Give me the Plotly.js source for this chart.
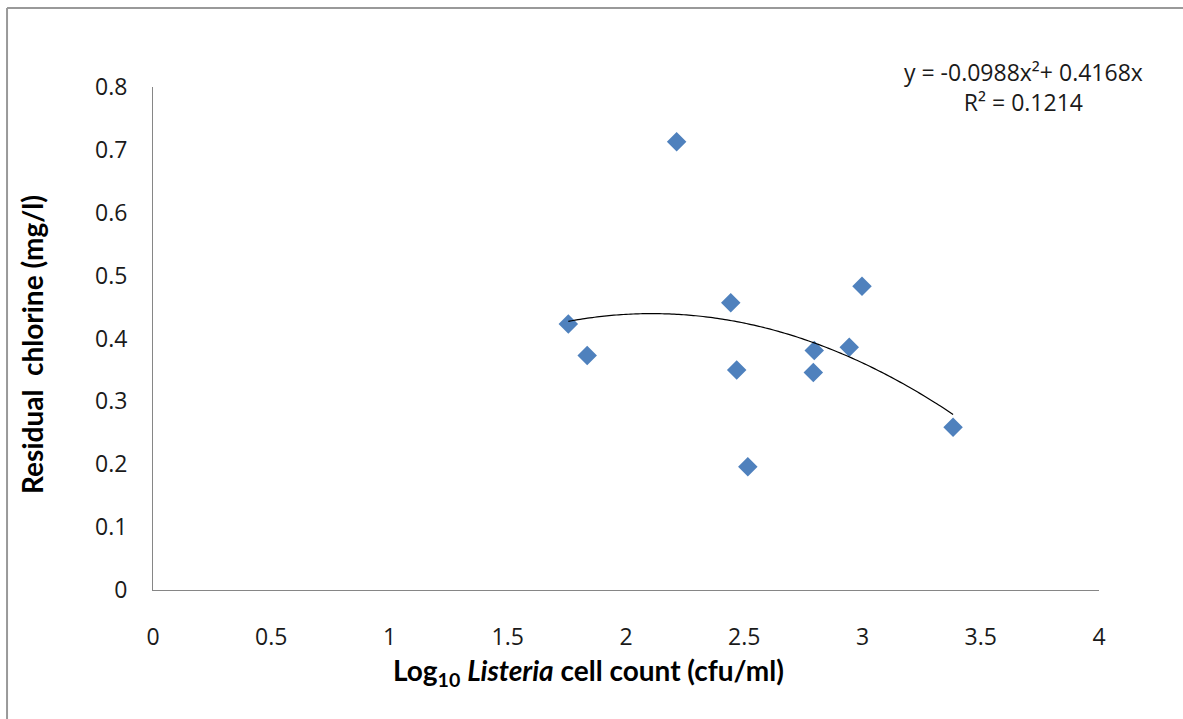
<!DOCTYPE html>
<html>
<head>
<meta charset="utf-8">
<script src="https://cdn.plot.ly/plotly-3.0.1.min.js"></script>
<style>
  html, body { margin: 0; padding: 0; background: #fff; }
  #chart { width: 1183px; height: 719px; }
</style>
</head>
<body>
<div id="chart"></div>
<script>
// Data
const logListeria = [1.756, 1.836, 2.214, 2.443, 2.468, 2.515, 2.792, 2.796, 2.944, 2.998, 3.383];
const residualChlorine = [0.423, 0.373, 0.713, 0.457, 0.350, 0.196, 0.346, 0.381, 0.386, 0.483, 0.259];
// Trendline coefficients as printed on the chart
const trendA = -0.0988;
const trendB = 0.4168;
const trendLabel = "y = -0.0988x²+ 0.4168x<br>R² = 0.1214";
const xTickVals = [0, 0.5, 1, 1.5, 2, 2.5, 3, 3.5, 4];
const yTickVals = [0, 0.1, 0.2, 0.3, 0.4, 0.5, 0.6, 0.7, 0.8];

// Trendline over the data range from the printed polynomial
const xMin = Math.min(...logListeria), xMax = Math.max(...logListeria);
const trendX = [], trendY = [];
const nSteps = 80;
for (let i = 0; i <= nSteps; i++) {
  const x = xMin + (xMax - xMin) * i / nSteps;
  trendX.push(x);
  trendY.push(trendA * x * x + trendB * x);
}

const tickFont = { family: "Open Sans, sans-serif", size: 23, color: "#1a1a1a" };
const titleFont = { family: "Lato, Open Sans, sans-serif", size: 28, color: "#000", weight: "bold" };

const traces = [
  {
    x: logListeria, y: residualChlorine, type: "scatter", mode: "markers",
    marker: { symbol: "diamond", size: 15, color: "#4F81BD" },
    showlegend: false, hoverinfo: "x+y"
  },
  {
    x: trendX, y: trendY, type: "scatter", mode: "lines",
    line: { color: "#000", width: 1.2, shape: "spline" },
    showlegend: false, hoverinfo: "skip"
  }
];

const layout = {
  width: 1183, height: 719,
  margin: { l: 153, r: 84, t: 87, b: 129 },
  paper_bgcolor: "#fff", plot_bgcolor: "#fff",
  xaxis: {
    range: [0, 4], tickvals: xTickVals, ticktext: xTickVals.map(String),
    showgrid: false, zeroline: false, showline: true, linecolor: "#868686", linewidth: 1,
    ticks: "", ticklabelstandoff: 26, tickfont: tickFont, automargin: false
  },
  yaxis: {
    range: [0, 0.8], tickvals: yTickVals, ticktext: yTickVals.map(String),
    showgrid: false, zeroline: false, showline: true, linecolor: "#868686", linewidth: 1,
    ticks: "", ticklabelstandoff: 20, tickfont: tickFont, automargin: false
  },
  annotations: [
    {
      xref: "paper", yref: "paper", x: 0.9197, y: 1.0, xanchor: "center", yanchor: "middle",
      text: trendLabel, showarrow: false, align: "center", font: tickFont
    },
    {
      xref: "paper", yref: "paper", x: 0.46, y: -0.164, xanchor: "center", yanchor: "middle",
      text: "<b>Log<sub>10</sub> <i>Listeria</i> cell count (cfu/ml)</b>", showarrow: false, font: titleFont
    },
    {
      xref: "paper", yref: "paper", x: -0.128, y: 0.489, xanchor: "center", yanchor: "middle",
      text: "<b>Residual  chlorine (mg/l)</b>", textangle: -90, showarrow: false, font: titleFont
    }
  ],
  shapes: [
    { type: "line", xref: "paper", yref: "paper", x0: -0.1543, x1: -0.1543, y0: 1.157, y1: -0.5,
      line: { color: "#999", width: 2 } },
    { type: "line", xref: "paper", yref: "paper", x0: -0.1543, x1: 1.2, y0: 1.157, y1: 1.157,
      line: { color: "#999", width: 2 } }
  ]
};

Plotly.newPlot("chart", traces, layout, { displayModeBar: false, staticPlot: true });
</script>
</body>
</html>
